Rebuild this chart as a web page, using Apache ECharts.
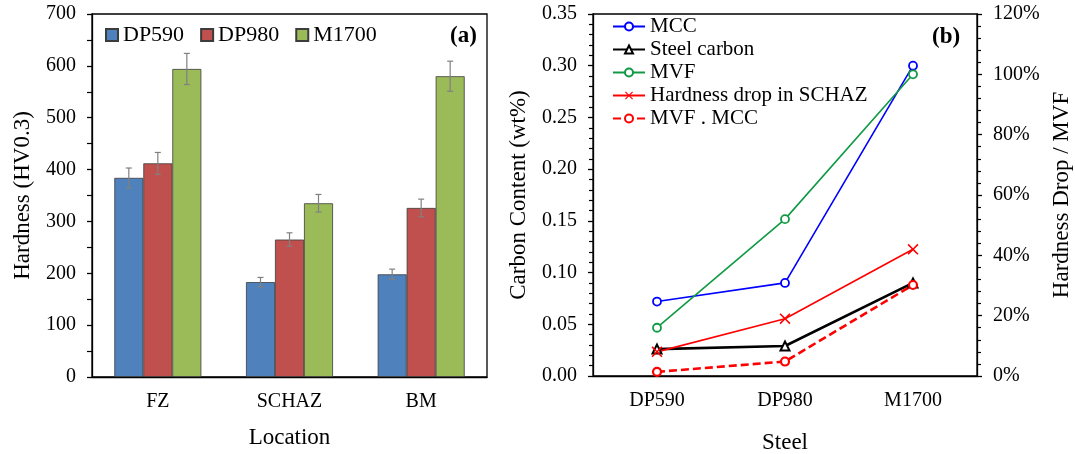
<!DOCTYPE html>
<html lang="en">
<head>
  <meta charset="UTF-8">
  <title>Hardness and carbon content</title>
  <script src="https://cdn.jsdelivr.net/npm/echarts@6/dist/echarts.min.js"></script>
  <style>
    html, body { margin: 0; padding: 0; background: #fff; }
    #main { width: 1075px; height: 454px; }
  </style>
</head>
<body>
  <div id="main"></div>
  <script>
    // (a) hardness by location
    var locations = ['FZ', 'SCHAZ', 'BM']
    var dp590 = [384, 183, 198]
    var dp980 = [412, 265, 326]
    var m1700 = [594, 335, 580]
    // error bar half-widths
    var dp590Err = [19, 9, 10]
    var dp980Err = [21, 13, 17]
    var m1700Err = [30, 17, 29]

    // (b) carbon / ratios by steel
    var steels = ['DP590', 'DP980', 'M1700']
    var mcc = [0.072, 0.090, 0.300]
    var steelCarbon = [0.026, 0.029, 0.090]
    var mvf = [0.16, 0.52, 1.00]            // right axis
    var hardnessDrop = [0.08, 0.19, 0.42]   // right axis
    var mvfMcc = [0.004, 0.014, 0.088]

    var font = 'Liberation Serif'
    var barW = 29
    var barColors = ['#4f81bd', '#c0504d', '#9bbb59']

    function errData(vals, errs) {
      return vals.map(function (v, i) { return [i, v - errs[i], v + errs[i]] })
    }

    // draws the error bar for bar number k in each group
    function errSeries(vals, errs, k) {
      return {
        type: 'custom',
        xAxisIndex: 0, yAxisIndex: 0,
        z: 5,
        data: errData(vals, errs),
        encode: { x: 0, y: [1, 2] },
        renderItem: function (params, api) {
          var top = api.coord([api.value(0), api.value(2)])
          var bot = api.coord([api.value(0), api.value(1)])
          var x = top[0] + (k - 1) * barW
          var st = { stroke: '#808080', lineWidth: 1.2 }
          return {
            type: 'group',
            children: [
              { type: 'line', shape: { x1: x, y1: top[1], x2: x, y2: bot[1] }, style: st },
              { type: 'line', shape: { x1: x - 3, y1: top[1], x2: x + 3, y2: top[1] }, style: st },
              { type: 'line', shape: { x1: x - 3, y1: bot[1], x2: x + 3, y2: bot[1] }, style: st }
            ]
          }
        }
      }
    }

    var axisLine = { lineStyle: { color: '#000', width: 1.3 } }
    var tickStyle = { lineStyle: { color: '#000', width: 1.3 } }
    var lbl = { color: '#000', fontFamily: font, fontSize: 20 }
    var nameStyle = { color: '#000', fontFamily: font, fontSize: 23 }

    var crossX = 'path://M0,1L1,0L5,4L9,0L10,1L6,5L10,9L9,10L5,6L1,10L0,9L4,5Z'

    var chart = echarts.init(document.getElementById('main'))
    var option = {
      backgroundColor: '#fff',
      animation: false,
      title: [
        { text: '(a)', left: 445, top: 20, textStyle: { fontFamily: font, fontSize: 23, fontWeight: 'bold', color: '#000' } },
        { text: '(b)', left: 927, top: 21, textStyle: { fontFamily: font, fontSize: 23, fontWeight: 'bold', color: '#000' } }
      ],
      legend: [
        {
          data: ['DP590', 'DP980', 'M1700'],
          icon: 'rect',
          left: 100, top: 19,
          itemWidth: 12, itemHeight: 12, itemGap: 16,
          textStyle: { fontFamily: font, fontSize: 22, color: '#000' }
        },
        {
          data: ['MCC', 'Steel carbon', 'MVF', 'Hardness drop in SCHAZ', 'MVF . MCC'],
          orient: 'vertical',
          left: 607, top: 11,
          itemWidth: 32, itemHeight: 10, itemGap: 2,
          textStyle: { fontFamily: font, fontSize: 21, color: '#000' }
        }
      ],
      grid: [
        { left: 92, right: 588, top: 14, bottom: 77, outerBoundsMode: 'none',
          show: true, borderColor: '#000', borderWidth: 1.3 },
        { left: 593, right: 98, top: 14, bottom: 78, outerBoundsMode: 'none',
          show: true, borderColor: '#000', borderWidth: 1.3 }
      ],
      xAxis: [
        {
          gridIndex: 0, type: 'category', data: locations,
          name: 'Location', nameLocation: 'middle', nameGap: 49, nameTextStyle: nameStyle,
          axisLine: axisLine,
          axisTick: { alignWithLabel: true, length: 5, lineStyle: tickStyle.lineStyle },
          axisLabel: Object.assign({ margin: 15 }, lbl)
        },
        {
          gridIndex: 1, type: 'category', data: steels,
          name: 'Steel', nameLocation: 'middle', nameGap: 55, nameTextStyle: nameStyle,
          axisLine: axisLine,
          axisTick: { alignWithLabel: true, length: 5, lineStyle: tickStyle.lineStyle },
          axisLabel: Object.assign({ margin: 15 }, lbl)
        }
      ],
      yAxis: [
        {
          gridIndex: 0, type: 'value', min: 0, max: 700, interval: 100,
          name: 'Hardness (HV0.3)', nameLocation: 'middle', nameRotate: 90, nameGap: 58, nameTextStyle: nameStyle,
          axisLine: { show: true, lineStyle: axisLine.lineStyle },
          axisTick: { show: true, length: 5, lineStyle: tickStyle.lineStyle },
          minorTick: { show: true, splitNumber: 2, length: 5, lineStyle: { color: '#000', width: 1.2 } },
          splitLine: { show: false },
          axisLabel: Object.assign({ margin: 16 }, lbl)
        },
        {
          gridIndex: 1, type: 'value', min: 0, max: 0.35, interval: 0.05,
          name: 'Carbon Content (wt%)', nameLocation: 'middle', nameRotate: 90, nameGap: 63, nameTextStyle: nameStyle,
          axisLine: { show: true, lineStyle: axisLine.lineStyle },
          axisTick: { show: true, length: 5, lineStyle: tickStyle.lineStyle },
          minorTick: { show: true, splitNumber: 5, length: 4, lineStyle: { color: '#000', width: 1.2 } },
          splitLine: { show: false },
          axisLabel: Object.assign({ margin: 16, formatter: function (v) { return v.toFixed(2) } }, lbl)
        },
        {
          gridIndex: 1, type: 'value', position: 'right', min: 0, max: 1.2, interval: 0.2,
          name: 'Hardness Drop / MVF', nameLocation: 'middle', nameRotate: 90, nameGap: 73, nameTextStyle: nameStyle,
          axisLine: { show: true, lineStyle: axisLine.lineStyle },
          axisTick: { show: true, length: 5, lineStyle: tickStyle.lineStyle },
          minorTick: { show: true, splitNumber: 5, length: 4, lineStyle: { color: '#000', width: 1.2 } },
          splitLine: { show: false },
          axisLabel: Object.assign({ margin: 16, formatter: function (v) { return Math.round(v * 100) + '%' } }, lbl)
        }
      ],
      series: [
        { name: 'DP590', type: 'bar', xAxisIndex: 0, yAxisIndex: 0, data: dp590, barWidth: barW, barGap: '0%',
          itemStyle: { color: barColors[0], borderColor: '#3c3c3c', borderWidth: 0.8 } },
        { name: 'DP980', type: 'bar', xAxisIndex: 0, yAxisIndex: 0, data: dp980, barWidth: barW, barGap: '0%',
          itemStyle: { color: barColors[1], borderColor: '#3c3c3c', borderWidth: 0.8 } },
        { name: 'M1700', type: 'bar', xAxisIndex: 0, yAxisIndex: 0, data: m1700, barWidth: barW, barGap: '0%',
          itemStyle: { color: barColors[2], borderColor: '#3c3c3c', borderWidth: 0.8 } },
        errSeries(dp590, dp590Err, 0),
        errSeries(dp980, dp980Err, 1),
        errSeries(m1700, m1700Err, 2),

        { name: 'MCC', type: 'line', xAxisIndex: 1, yAxisIndex: 1, data: mcc,
          symbol: 'circle', symbolSize: 8,
          lineStyle: { color: '#0000ff', width: 1.6 },
          itemStyle: { color: '#fff', borderColor: '#0000ff', borderWidth: 1.8 } },
        { name: 'Steel carbon', type: 'line', xAxisIndex: 1, yAxisIndex: 1, data: steelCarbon,
          symbol: 'triangle', symbolSize: 9,
          lineStyle: { color: '#000', width: 2.6 },
          itemStyle: { color: '#fff', borderColor: '#000', borderWidth: 2 } },
        { name: 'MVF', type: 'line', xAxisIndex: 1, yAxisIndex: 2, data: mvf,
          symbol: 'circle', symbolSize: 8,
          lineStyle: { color: '#109a45', width: 1.6 },
          itemStyle: { color: '#fff', borderColor: '#109a45', borderWidth: 1.8 } },
        { name: 'Hardness drop in SCHAZ', type: 'line', xAxisIndex: 1, yAxisIndex: 2, data: hardnessDrop,
          symbol: crossX, symbolSize: 11,
          lineStyle: { color: '#ff0000', width: 1.6 },
          itemStyle: { color: '#ff0000' } },
        { name: 'MVF . MCC', type: 'line', xAxisIndex: 1, yAxisIndex: 1, data: mvfMcc,
          symbol: 'circle', symbolSize: 8,
          lineStyle: { color: '#ff0000', width: 2.6, type: [8, 4] },
          itemStyle: { color: '#fff', borderColor: '#ff0000', borderWidth: 2.2 } }
      ]
    }
    chart.setOption(option)
  </script>
</body>
</html>
